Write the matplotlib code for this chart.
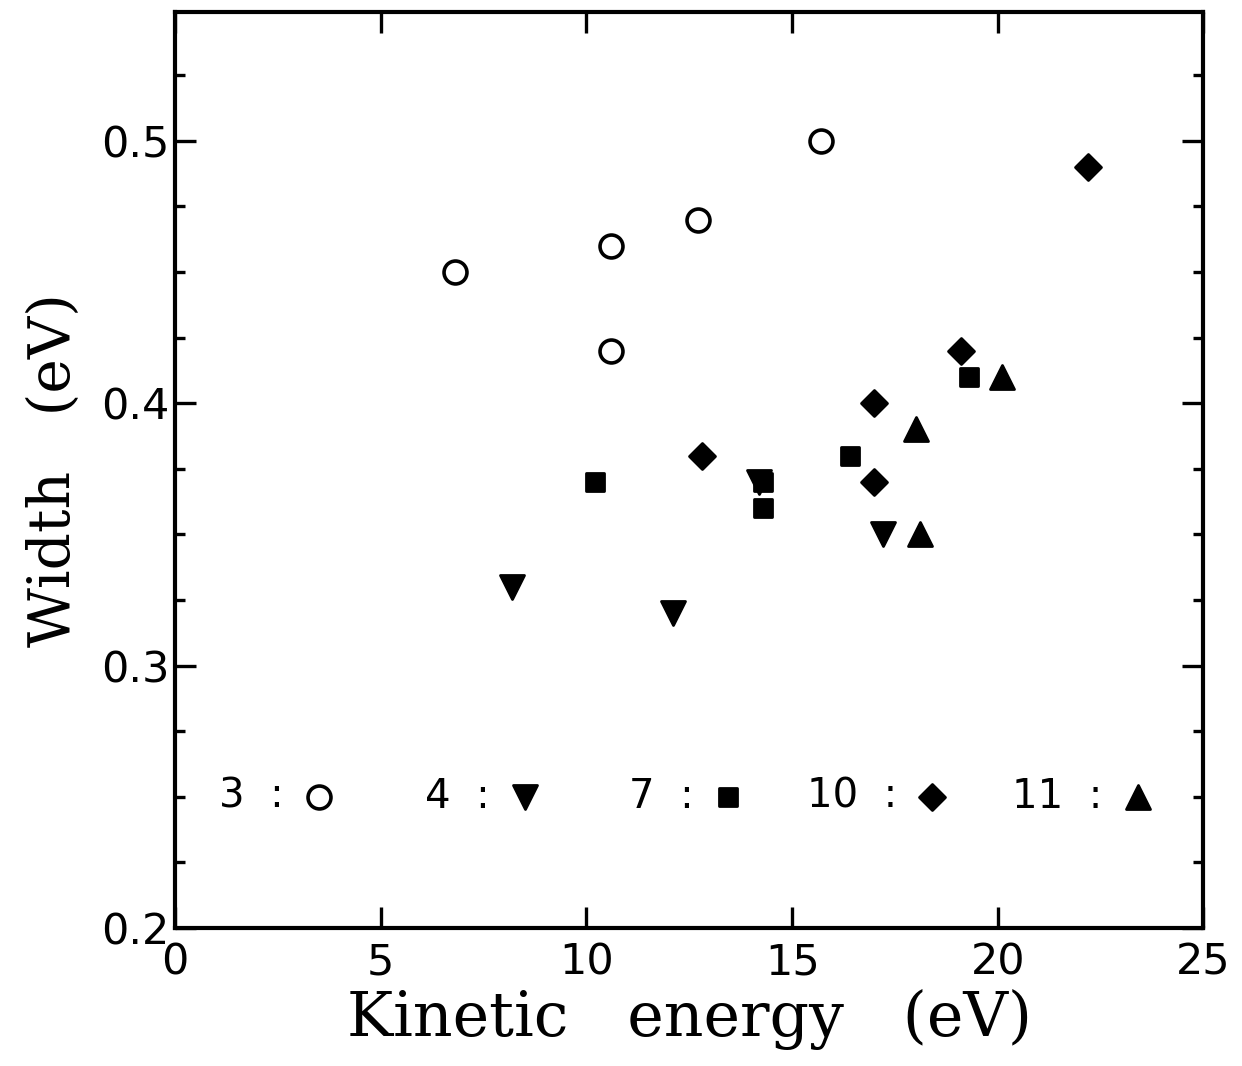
import matplotlib.pyplot as plt
from matplotlib.ticker import MultipleLocator
from matplotlib.markers import MarkerStyle

# --- data ---
# series label : (kinetic energy eV, width eV)
n3_x = [6.8, 10.6, 10.6, 12.7, 15.7]
n3_y = [0.45, 0.46, 0.42, 0.47, 0.50]

n4_x = [8.2, 12.1, 14.2, 17.2]
n4_y = [0.33, 0.32, 0.37, 0.35]

n7_x = [10.2, 14.3, 14.3, 16.4, 19.3]
n7_y = [0.37, 0.37, 0.36, 0.38, 0.41]

n10_x = [12.8, 17.0, 17.0, 19.1, 22.2]
n10_y = [0.38, 0.40, 0.37, 0.42, 0.49]

n11_x = [18.0, 18.1, 20.1]
n11_y = [0.39, 0.35, 0.41]

labels = ['3', '4', '7', '10', '11']


def mk(m):
    # rounded corners like the plotter symbols
    return MarkerStyle(m, joinstyle='round')


# marker styles per series
styles = [
    dict(marker='o', ms=16.5, mfc='white', mec='black', mew=2.6),
    dict(marker=mk('v'), ms=17, mfc='black', mec='black', mew=2),
    dict(marker=mk('s'), ms=13.5, mfc='black', mec='black', mew=2),
    dict(marker=mk('D'), ms=13.5, mfc='black', mec='black', mew=2),
    dict(marker=mk('^'), ms=17, mfc='black', mec='black', mew=2),
]
series = [(n3_x, n3_y), (n4_x, n4_y), (n7_x, n7_y), (n10_x, n10_y), (n11_x, n11_y)]

# in-plot key, drawn along y = 0.25
key_y = 0.25
key_x = [3.5, 8.5, 13.45, 18.4, 23.4]

fig = plt.figure(figsize=(12.42, 10.66), dpi=100)
ax = fig.add_axes([0.141, 0.1295, 0.828, 0.859])

for (xs, ys), st in zip(series, styles):
    ax.plot(xs, ys, linestyle='none', **st)

for lab, kx, st in zip(labels, key_x, styles):
    ax.plot([kx], [key_y], linestyle='none', **st)
    ax.text(kx - 0.85, key_y, lab + '  :', ha='right', va='center',
            fontsize=29, family='DejaVu Sans')

ax.set_xlim(0, 25)
ax.set_ylim(0.2, 0.549)
ax.xaxis.set_major_locator(MultipleLocator(5))
ax.yaxis.set_minor_locator(MultipleLocator(0.025))
ax.set_yticks([0.2, 0.3, 0.4, 0.5])
ax.set_yticklabels(['0.2', '0.3', '0.4', '0.5'])

ax.tick_params(which='both', direction='in', top=True, right=True, width=2.4)
ax.tick_params(which='major', length=15, labelsize=31, pad=4)
ax.tick_params(which='minor', length=7)
ax.tick_params(axis='x', which='major', pad=10)
for s in ax.spines.values():
    s.set_linewidth(3)

ax.set_xlabel('Kinetic   energy   (eV)', fontsize=44.5, family='DejaVu Serif', labelpad=4)
ax.set_ylabel('Width   (eV)', fontsize=42, family='DejaVu Serif', labelpad=14)

fig.savefig('out.png', dpi=100)
